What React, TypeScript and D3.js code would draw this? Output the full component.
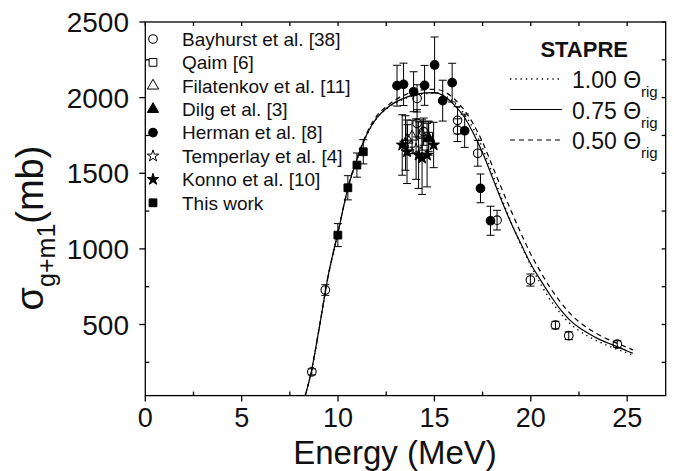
import React, { useEffect, useRef } from "react";
import * as d3 from "d3";

// STAPRE calculations, sigma (mb) on a common energy grid (MeV)
const energyGrid = [8.3, 8.6, 9.0, 9.5, 10, 10.5, 11, 11.5, 12, 12.5, 13, 13.5, 14, 14.5, 15, 15.5, 16, 16.5, 17, 17.5, 18, 18.5, 19, 19.5, 20, 20.5, 21, 21.5, 22, 22.5, 23, 23.5, 24, 24.5, 25, 25.3];
const stapre100 = [30, 180, 455, 825, 1105, 1390, 1595, 1755, 1862, 1925, 1965, 1995, 2015, 2025, 2030, 2015, 1970, 1900, 1800, 1665, 1500, 1330, 1170, 1025, 890, 770, 665, 580, 510, 460, 420, 388, 360, 335, 312, 298];
const stapre075 = [30, 180, 460, 830, 1110, 1395, 1600, 1760, 1865, 1928, 1972, 2000, 2020, 2032, 2033, 2010, 1955, 1880, 1770, 1635, 1475, 1315, 1165, 1030, 900, 795, 695, 605, 532, 480, 440, 405, 378, 352, 325, 310];
const stapre050 = [30, 180, 460, 830, 1110, 1400, 1605, 1768, 1878, 1940, 1988, 2020, 2042, 2053, 2055, 2040, 1995, 1925, 1830, 1705, 1550, 1395, 1245, 1100, 965, 850, 745, 655, 578, 518, 472, 434, 402, 375, 348, 332];

// experimental data: [energy, sigma, error]
const bayhurst = [[8.64, 187, 20], [9.34, 728, 35], [14.1, 1995, 90], [14.1, 1830, 90], [14.44, 1775, 90], [16.2, 1850, 90], [16.2, 1785, 75], [17.25, 1632, 85], [18.25, 1190, 65], [19.98, 794, 40], [21.28, 496, 25], [21.97, 426, 25], [24.49, 370, 22]];
const qaim = [[14.7, 1745, 100]];
const filatenkov = [[13.6, 1721, 100], [13.84, 1741, 110], [14.36, 1753, 100]];
const dilg = [[14.7, 1730, 110]];
const herman = [[13.06, 2079, 135], [13.4, 2088, 140], [13.92, 2039, 132], [14.49, 2081, 132], [15.01, 2216, 185], [15.43, 1980, 135], [15.92, 2099, 128], [16.57, 1781, 110], [17.39, 1400, 95], [17.91, 1186, 96]];
const temperlay = [[13.5, 1700, 180], [14.05, 1660, 200]];
const konno = [[13.33, 1687, 200], [13.58, 1642, 210], [14.18, 1620, 220], [14.36, 1600, 240], [14.62, 1620, 210], [14.96, 1687, 150]];
const thisWork = [[9.99, 1091, 76], [10.51, 1404, 80], [10.98, 1554, 80], [11.31, 1642, 80]];

const seriesNames = ["Bayhurst et al. [38]", "Qaim [6]", "Filatenkov et al. [11]", "Dilg et al. [3]", "Herman et al. [8]", "Temperlay et al. [4]", "Konno et al. [10]", "This work"];
const seriesKinds = ["circleOpen", "squareOpen", "triangleOpen", "triangleFilled", "circleFilled", "starOpen", "starFilled", "squareFilled"];
const seriesData = [bayhurst, qaim, filatenkov, dilg, herman, temperlay, konno, thisWork];

const curveLabels = ["1.00", "0.75", "0.50"];
const curveData = [stapre100, stapre075, stapre050];
const curveDash = ["1.3,4", "none", "5,4"];

const xMajor = [0, 5, 10, 15, 20, 25];
const xMinor = [2.5, 7.5, 12.5, 17.5, 22.5];
const yMajor = [500, 1000, 1500, 2000, 2500];
const yMinor = [250, 750, 1250, 1750, 2250];

const FONT = "'Liberation Sans', Arial, Helvetica, sans-serif";

const App = () => {
  const ref = useRef<SVGSVGElement>(null);

  useEffect(() => {
    const svg = d3.select(ref.current);
    svg.selectAll("*").remove();

    const x = d3.scaleLinear().domain([0, 27]).range([145.3, 665.7]);
    const y = d3.scaleLinear().domain([30, 2500]).range([395.6, 22]);
    const [x0, x1] = x.range();
    const [y0, y1] = y.range();

    svg.append("rect").attr("width", 674).attr("height", 471).attr("fill", "white");

    // curves
    const clip = svg.append("clipPath").attr("id", "plotclip");
    clip.append("rect").attr("x", x0).attr("y", y1).attr("width", x1 - x0).attr("height", y0 - y1);
    const curveG = svg.append("g").attr("clip-path", "url(#plotclip)");
    curveData.forEach((vals, i) => {
      const line = d3
        .line<number>()
        .x((d, j) => x(energyGrid[j]))
        .y((d) => y(d))
        .curve(d3.curveMonotoneX);
      curveG
        .append("path")
        .attr("d", line(vals))
        .attr("fill", "none")
        .attr("stroke", "black")
        .attr("stroke-width", i === 0 ? 1.4 : 1.2)
        .attr("stroke-dasharray", curveDash[i]);
    });

    const drawSymbol = (g: any, kind: string, cx: number, cy: number) => {
      const filled = kind.endsWith("Filled");
      if (kind.startsWith("circle")) {
        g.append("circle")
          .attr("cx", cx)
          .attr("cy", cy)
          .attr("r", 4.3)
          .attr("fill", filled ? "black" : "none")
          .attr("stroke", "black")
          .attr("stroke-width", 1.1);
        return;
      }
      let type: any = d3.symbolSquare;
      let size = 60;
      if (kind.startsWith("triangle")) {
        type = d3.symbolTriangle;
        size = 55;
      } else if (kind.startsWith("star")) {
        type = d3.symbolStar;
        size = 42;
      }
      g.append("path")
        .attr("d", d3.symbol().type(type).size(size)())
        .attr("transform", `translate(${cx},${cy})`)
        .attr("fill", filled ? "black" : "none")
        .attr("stroke", "black")
        .attr("stroke-width", 1);
    };

    // data points with error bars
    const ptsG = svg.append("g");
    seriesData.forEach((data, si) => {
      data.forEach(([e, s, err]) => {
        const cx = x(e);
        ptsG.append("line")
          .attr("x1", cx).attr("x2", cx)
          .attr("y1", y(s - err)).attr("y2", y(s + err))
          .attr("stroke", "black").attr("stroke-width", 1);
        [s - err, s + err].forEach((v) => {
          ptsG.append("line")
            .attr("x1", cx - 4).attr("x2", cx + 4)
            .attr("y1", y(v)).attr("y2", y(v))
            .attr("stroke", "black").attr("stroke-width", 1);
        });
      });
      data.forEach(([e, s]) => drawSymbol(ptsG, seriesKinds[si], x(e), y(s)));
    });

    // frame and ticks
    const axG = svg.append("g").attr("stroke", "black").attr("stroke-width", 1.3);
    axG.append("rect")
      .attr("x", x0).attr("y", y1).attr("width", x1 - x0).attr("height", y0 - y1)
      .attr("fill", "none");
    xMajor.forEach((v) => {
      axG.append("line").attr("x1", x(v)).attr("x2", x(v)).attr("y1", y0).attr("y2", y0 + 6);
      axG.append("line").attr("x1", x(v)).attr("x2", x(v)).attr("y1", y1).attr("y2", y1 + 4);
    });
    xMinor.forEach((v) => {
      axG.append("line").attr("x1", x(v)).attr("x2", x(v)).attr("y1", y0).attr("y2", y0 - 4);
      axG.append("line").attr("x1", x(v)).attr("x2", x(v)).attr("y1", y1).attr("y2", y1 + 4);
    });
    yMajor.forEach((v) => {
      axG.append("line").attr("x1", x0 - 6).attr("x2", x0).attr("y1", y(v)).attr("y2", y(v));
      axG.append("line").attr("x1", x1).attr("x2", x1 - 4).attr("y1", y(v)).attr("y2", y(v));
    });
    yMinor.forEach((v) => {
      axG.append("line").attr("x1", x0).attr("x2", x0 + 4).attr("y1", y(v)).attr("y2", y(v));
      axG.append("line").attr("x1", x1).attr("x2", x1 - 4).attr("y1", y(v)).attr("y2", y(v));
    });

    const txt = svg.append("g").attr("font-family", FONT).attr("fill", "#111");
    xMajor.forEach((v) => {
      txt.append("text")
        .attr("x", x(v)).attr("y", 427)
        .attr("text-anchor", "middle").attr("font-size", 27)
        .text(v);
    });
    yMajor.forEach((v) => {
      txt.append("text")
        .attr("x", 129).attr("y", y(v)).attr("dy", "0.36em")
        .attr("text-anchor", "end").attr("font-size", 28)
        .text(v);
    });

    txt.append("text")
      .attr("x", 395).attr("y", 464)
      .attr("text-anchor", "middle").attr("font-size", 33)
      .text("Energy (MeV)");

    const yt = txt.append("text")
      .attr("transform", "translate(43,228) rotate(-90)")
      .attr("text-anchor", "middle")
      .attr("font-size", 38);
    yt.append("tspan").text("σ");
    yt.append("tspan").attr("font-size", 25).attr("dy", 12).text("g+m1");
    yt.append("tspan").attr("dy", -12).text("(mb)");

    // experimental legend
    seriesNames.forEach((name, i) => {
      const cy = 39 + i * 23.4;
      drawSymbol(svg, seriesKinds[i], 153, cy);
      txt.append("text")
        .attr("x", 182).attr("y", cy).attr("dy", "0.36em")
        .attr("font-size", 19)
        .text(name);
    });

    // STAPRE legend
    txt.append("text")
      .attr("x", 628).attr("y", 57)
      .attr("text-anchor", "end").attr("font-size", 22).attr("font-weight", "bold")
      .text("STAPRE");
    curveLabels.forEach((lab, i) => {
      const cy = 79 + i * 30.5;
      svg.append("line")
        .attr("x1", 510).attr("x2", 562).attr("y1", cy).attr("y2", cy)
        .attr("stroke", "black").attr("stroke-width", i === 0 ? 1.4 : 1.2)
        .attr("stroke-dasharray", curveDash[i]);
      const t = txt.append("text").attr("x", 572).attr("y", cy + 9).attr("font-size", 23);
      t.append("tspan").text(`${lab} Θ`);
      t.append("tspan").attr("font-size", 15).attr("dy", 9).text("rig");
    });
  }, []);

  return (
    <svg
      ref={ref}
      width={674}
      height={471}
      style={{ position: "absolute", left: 0, top: 0 }}
    />
  );
};

export default App;
